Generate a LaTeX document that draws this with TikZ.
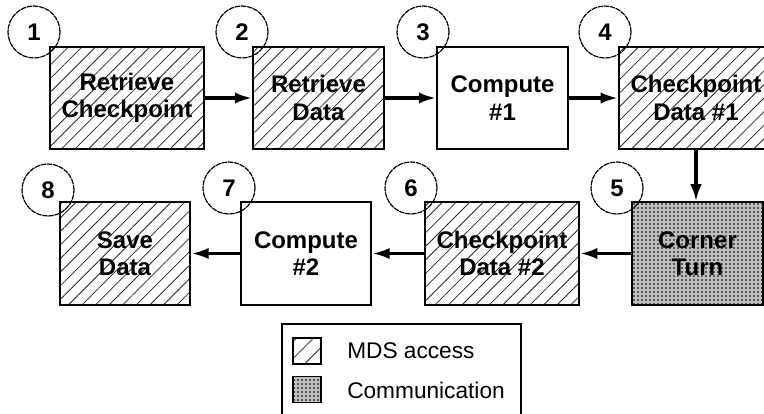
\documentclass[tikz,border=0pt]{standalone}
\usepackage{fontspec}
\setmainfont{Liberation Sans}
\usetikzlibrary{patterns.meta,arrows.meta}

\tikzset{
  box/.style={draw,line width=1.6pt,rectangle,align=center,inner sep=0pt,
    minimum height=77pt,font=\bfseries\fontsize{18}{20.5}\selectfont},
  wide/.style={minimum width=115.5pt},
  narrow/.style={minimum width=98pt},
  mdsbox/.style={box,pattern={Lines[angle=45,distance=7.2pt,line width=0.6pt]},pattern color=black!85},
  compbox/.style={box,fill=white},
  commbox/.style={box,preaction={fill=black!66},
    pattern={Hatch[angle=0,distance=3pt,line width=0.9pt]},pattern color=black!25},
  stepnum/.style={circle,draw,line width=0.9pt,dash pattern=on 4pt off 0.6pt,
    minimum size=39pt,inner sep=0pt,font=\bfseries\fontsize{18}{18}\selectfont},
  flow/.style={-{Latex[length=13pt,width=8.5pt]},line width=2.4pt},
  legtext/.style={anchor=west,inner sep=0pt,font=\fontsize{17}{17}\selectfont}
}

\begin{document}
\begin{tikzpicture}[x=0.75pt,y=-0.75pt]
  \useasboundingbox (0,0) rectangle (764,414);
  \clip (0,0) rectangle (764,414);

  % first row, left to right
  \node[mdsbox,wide]    (b1) at (127,98)   {Retrieve\\Checkpoint};
  \node[mdsbox,narrow]  (b2) at (318.5,98) {Retrieve\\Data};
  \node[compbox,narrow] (b3) at (502.5,98) {Compute\\\#1};
  \node[mdsbox,wide]    (b4) at (696,98)   {Checkpoint\\Data \#1};
  % second row, right to left
  \node[commbox,narrow] (b5) at (697.5,253.5) {Corner\\Turn};
  \node[mdsbox,wide]    (b6) at (502,253.5)   {Checkpoint\\Data \#2};
  \node[compbox,narrow] (b7) at (306,253.5)   {Compute\\\#2};
  \node[mdsbox,narrow]  (b8) at (125,253.5)   {Save\\Data};

  % step numbers
  \node[stepnum] (n1) at (34,32)   {1};
  \node[stepnum] (n2) at (242,32)  {2};
  \node[stepnum] (n3) at (423,32)  {3};
  \node[stepnum] (n4) at (605,32)  {4};
  \node[stepnum] (n5) at (617,188) {5};
  \node[stepnum] (n6) at (411,188) {6};
  \node[stepnum] (n7) at (229,188) {7};
  \node[stepnum] (n8) at (48,190)  {8};

  % flow
  \draw[flow] (b1) -- (b2);
  \draw[flow] (b2) -- (b3);
  \draw[flow] (b3) -- (b4);
  \draw[flow] (b4.south) -- (b4.south |- b5.north);
  \draw[flow] (b5) -- (b6);
  \draw[flow] (b6) -- (b7);
  \draw[flow] (b7) -- (b8);

  % legend
  \draw[line width=1.2pt] (282,324) rectangle (521,430);
  \node[draw,line width=1.2pt,minimum width=21pt,minimum height=19.5pt,inner sep=0pt,
    pattern={Lines[angle=45,distance=9pt,line width=0.6pt]},pattern color=black!85]
    (leg1) at (307,351) {};
  \node[draw,line width=1.2pt,minimum width=21pt,minimum height=19.5pt,inner sep=0pt,
    preaction={fill=black!66},pattern={Hatch[angle=0,distance=3pt,line width=0.9pt]},pattern color=black!25]
    (leg2) at (307,389.5) {};
  \node[legtext] (t1) at (347,351) {MDS access};
  \node[legtext] (t2) at (347,390) {Communication};
\end{tikzpicture}
\end{document}
